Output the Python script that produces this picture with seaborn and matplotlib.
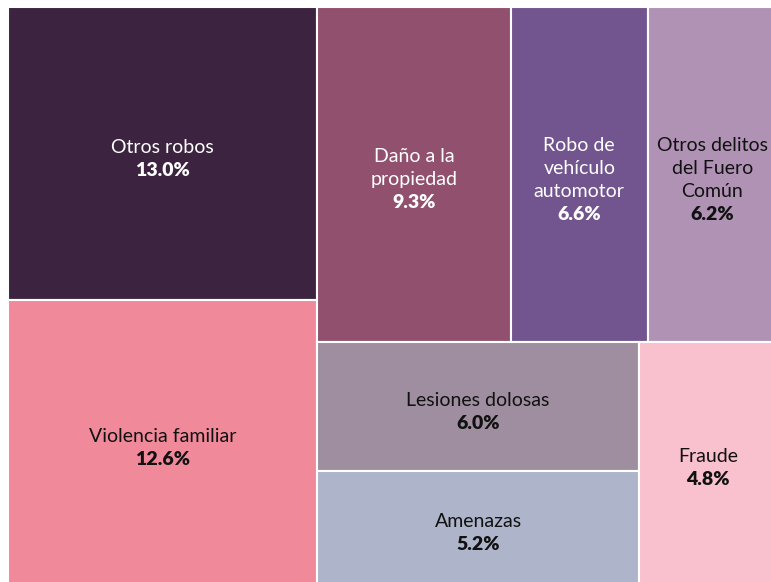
import seaborn as sns
import matplotlib.pyplot as plt

# Treemap data (share of reported crimes, %)
labels = ['Otros robos', 'Violencia familiar', 'Daño a la\npropiedad',
          'Robo de\nvehículo\nautomotor', 'Otros delitos\ndel Fuero\nComún',
          'Lesiones dolosas', 'Amenazas', 'Fraude']
values = [13.0, 12.6, 9.3, 6.6, 6.2, 6.0, 5.2, 4.8]
colors = ['#3c2340', '#f08a9b', '#91516e', '#72558e', '#b092b5',
          '#9e8ea0', '#aeb4c9', '#f8c1cd']
text_colors = ['white', '#111111', 'white', 'white', '#111111',
               '#111111', '#111111', '#111111']

# canvas size in pixels (the right/bottom edge gets cropped a little)
W, H = 769, 577
PHI = (1 + 5 ** 0.5) / 2


def squarify(vals, x0, y0, x1, y1, ratio=PHI):
    # same idea as d3.treemapSquarify
    rects = []
    remaining = sum(vals)
    i0 = 0
    n = len(vals)
    while i0 < n:
        dx, dy = x1 - x0, y1 - y0
        i1 = i0 + 1
        s = vals[i0]
        vmin = vmax = s
        alpha = max(dy / dx, dx / dy) / (remaining * ratio)
        beta = s * s * alpha
        best = max(vmax / beta, beta / vmin)
        while i1 < n:
            v = vals[i1]
            s2 = s + v
            beta = s2 * s2 * alpha
            new = max(max(vmax, v) / beta, beta / min(vmin, v))
            if new > best:
                break
            s, best = s2, new
            vmin, vmax = min(vmin, v), max(vmax, v)
            i1 += 1
        row = vals[i0:i1]
        if dx < dy:
            # row across the top
            h = dy * s / remaining
            xx = x0
            for v in row:
                w = dx * v / s
                rects.append((xx, y0, w, h))
                xx += w
            y0 += h
        else:
            # column on the left
            w = dx * s / remaining
            yy = y0
            for v in row:
                h = dy * v / s
                rects.append((x0, yy, w, h))
                yy += h
            x0 += w
        remaining -= s
        i0 = i1
    return rects


rects = squarify(values, 0, 0, W, H)

sns.set_theme(style='white')
plt.rcParams['font.family'] = ['Lato', 'DejaVu Sans']

fig = plt.figure(figsize=(7.71, 5.82), dpi=100)
ax = fig.add_axes([8 / 771, -2 / 582, W / 771, H / 582])

xs = [r[0] for r in rects]
ys = [r[1] for r in rects]
ws = [r[2] for r in rects]
hs = [r[3] for r in rects]
ax.bar(xs, hs, width=ws, bottom=ys, align='edge', color=colors,
       edgecolor='white', linewidth=1.5)

ax.set_xlim(0, W)
ax.set_ylim(H, 0)
ax.axis('off')

step = 23
for (x, y, w, h), lab, val, tc in zip(rects, labels, values, text_colors):
    lines = lab.split('\n') + ['%.1f%%' % val]
    n = len(lines)
    cx = x + w / 2
    cy = y + h / 2 + 6
    for k, line in enumerate(lines):
        ly = cy + (k - (n - 1) / 2) * step
        bold = k == n - 1
        ax.text(cx, ly + 5, line, ha='center', va='baseline', color=tc,
                fontsize=14, fontweight='heavy' if bold else 'normal')

fig.savefig('out.png', dpi=100)
